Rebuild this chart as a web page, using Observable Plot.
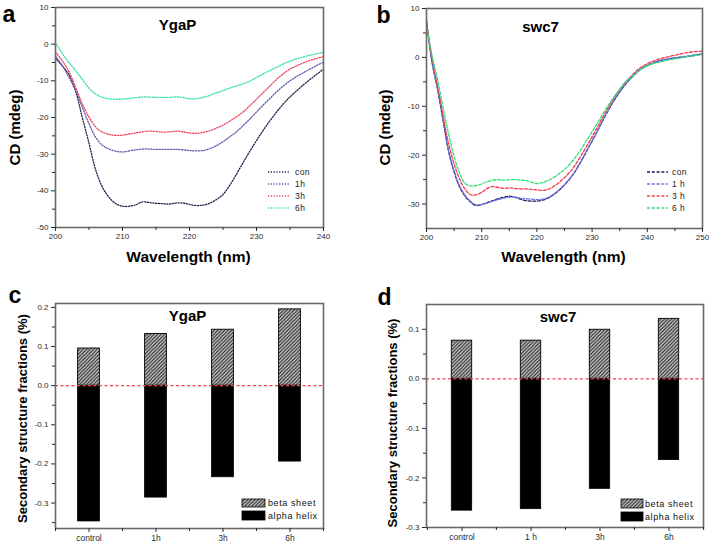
<!DOCTYPE html>
<html>
<head>
<meta charset="utf-8">
<script src="https://cdn.jsdelivr.net/npm/d3@7"></script>
<script src="https://cdn.jsdelivr.net/npm/@observablehq/plot@0.6"></script>
<style>
  body { margin: 0; background: #fff; }
  #root { position: relative; width: 709px; height: 544px; overflow: hidden; background: #fff; }
  .panel { position: absolute; }
</style>
</head>
<body>
<div id="root"></div>
<script>
// ---------------- DATA ----------------
// Panel a: YgaP CD spectra
const wavelengthA = [200,201,202,203,204,205,206,207,208,209,210,211,212,213,214,215,216,217,218,219,220,221,222,223,224,225,226,227,228,229,230,231,232,233,234,235,236,237,238,239,240];
const ygapCon = [-3.8,-5.9,-8.3,-12.8,-20,-27,-34.3,-39,-41.8,-43.5,-44.2,-44.2,-43.8,-43,-43.2,-43.4,-43.5,-43.6,-43.3,-43.3,-43.7,-44,-43.9,-43.4,-42.4,-41,-38.5,-35.5,-32.3,-29.2,-26.3,-23.5,-20.9,-18.5,-16.3,-14.4,-12.7,-11.1,-9.6,-8.2,-6.8];
const ygap1h  = [-3.3,-5.8,-9,-12.6,-17.2,-21.7,-25.4,-27.6,-28.6,-29.2,-29.4,-29.1,-28.8,-28.6,-28.6,-28.7,-28.7,-28.7,-28.7,-28.8,-29,-29.1,-29,-28.5,-27.7,-26.6,-25.3,-23.9,-22.2,-20.4,-18.5,-16.6,-14.8,-13,-11.4,-10,-8.8,-7.8,-6.8,-5.8,-4.9];
const ygap3h  = [-2.2,-4.5,-7.5,-11.7,-16.3,-19.9,-22.6,-24,-24.6,-24.9,-24.8,-24.5,-24.2,-23.9,-23.7,-23.8,-24,-23.9,-23.7,-23.9,-24.2,-24.3,-24.1,-23.6,-22.9,-22.1,-21,-19.8,-18.5,-16.8,-15,-13.2,-11.4,-9.6,-8.1,-6.8,-5.9,-5.1,-4.4,-3.9,-3.4];
const ygap6h  = [0.4,-2.5,-5,-7.2,-9.6,-12,-13.6,-14.5,-14.9,-15,-15,-14.8,-14.6,-14.4,-14.4,-14.5,-14.5,-14.5,-14.4,-14.5,-14.9,-14.9,-14.5,-14,-13.3,-12.7,-12,-11.4,-10.8,-10.1,-9.1,-8.1,-7.2,-6.3,-5.4,-4.6,-4,-3.5,-3,-2.6,-2.2];

// Panel b: swc7 CD spectra
const wavelengthB = [200,201,202,203,204,205,206,207,208,209,210,211,212,213,214,215,216,217,218,219,220,221,222,223,224,225,226,227,228,229,230,231,232,233,234,235,236,237,238,239,240,241,242,244,246,248,250];
const swc7Con = [7.6,-1,-6.5,-12.9,-19.2,-23.4,-26.5,-28.4,-29.6,-30.3,-30.1,-29.7,-29.3,-28.9,-28.6,-28.4,-28.6,-29,-29.3,-29.4,-29.4,-29.2,-28.8,-28.1,-27.2,-26.1,-24.8,-23.2,-21.3,-19.2,-17.1,-15,-12.8,-10.7,-8.8,-7.1,-5.6,-4.3,-3.2,-2.3,-1.7,-1.2,-0.8,-0.3,0,0.3,0.7];
const swc71h  = [7.2,-0.8,-6.3,-12.7,-19,-23.2,-26.3,-28.2,-29.5,-30.2,-30.1,-29.8,-29.4,-29.1,-28.8,-28.6,-28.6,-28.8,-28.9,-29,-29.1,-29,-28.7,-28,-27.1,-26,-24.7,-23.1,-21.2,-19.1,-17,-14.9,-12.7,-10.6,-8.7,-7,-5.5,-4.2,-3.1,-2.2,-1.6,-1.1,-0.7,-0.2,0.1,0.4,0.8];
const swc73h  = [7,0,-5.8,-11.8,-17.6,-21.8,-24.9,-27,-28.1,-28.1,-27.6,-26.8,-26.4,-26.6,-26.8,-26.7,-26.8,-26.9,-26.9,-27,-27.1,-27.2,-27,-26.4,-25.6,-24.6,-23.4,-21.9,-20.1,-18.2,-16.2,-14.2,-12.1,-10.1,-8.2,-6.6,-5.1,-3.9,-2.8,-1.9,-1.3,-0.8,-0.4,0.2,0.7,1.1,1.3];
const swc76h  = [6.5,0.3,-4.5,-10.2,-15.6,-20.3,-23.7,-25.8,-26.3,-26.2,-25.9,-25.4,-25.1,-25,-25.1,-25,-25,-25.1,-25.2,-25.5,-25.8,-25.6,-25.2,-24.6,-23.8,-22.9,-21.8,-20.4,-18.8,-17,-15.2,-13.4,-11.5,-9.7,-8,-6.5,-5.1,-4,-3.1,-2.3,-1.7,-1.3,-1,-0.5,-0.1,0.3,0.6];

const seriesKeys = ["con", "1h", "3h", "6h"];
const legendLabelsA = ["con", "1h", "3h", "6h"];
const legendLabelsB = ["con", "1 h", "3 h", "6 h"];
const colorsA = ["#22224a", "#5c5cae", "#f5425e", "#2ee0a8"];
const colorsB = ["#1e1e5e", "#6f74e8", "#f53a4a", "#2fe070"];

// Panel c: YgaP secondary structure fractions
const groupsC = ["control", "1h", "3h", "6h"];
const betaC  = [0.095, 0.132, 0.143, 0.195];
const alphaC = [-0.347, -0.286, -0.234, -0.194];

// Panel d: swc7 secondary structure fractions
const groupsD = ["control", "1 h", "3h", "6h"];
const betaD  = [0.077, 0.077, 0.099, 0.121];
const alphaD = [-0.266, -0.263, -0.222, -0.164];

// Tick values
const xMajorA = [200, 210, 220, 230, 240];
const xMinorA = [205, 215, 225, 235];
const yMajorA = [-50, -40, -30, -20, -10, 0, 10];
const yMinorA = [-45, -35, -25, -15, -5, 5];
const xMajorB = [200, 210, 220, 230, 240, 250];
const xMinorB = [205, 215, 225, 235, 245];
const yMajorB = [-30, -20, -10, 0, 10];
const yMinorB = [-25, -15, -5, 5];
const yMajorC = [-0.3, -0.2, -0.1, 0, 0.1, 0.2];
const yMinorC = [-0.35, -0.25, -0.15, -0.05, 0.05, 0.15];
const yMajorD = [-0.3, -0.2, -0.1, 0, 0.1];
const yMinorD = [-0.25, -0.15, -0.05, 0.05];

// ---------------- HELPERS ----------------
const FONT = "'Liberation Sans', Arial, Helvetica, sans-serif";
const FRAME = "#6a6a6a";

function toRows(xs, arrays) {
  const rows = [];
  arrays.forEach((ys, k) => xs.forEach((x, i) => rows.push({wavelength: x, cd: ys[i], series: seriesKeys[k]})));
  return rows;
}
function barRows(groups, values) {
  return groups.map((g, i) => ({group: g, value: values[i]}));
}
const label = (t, o) => Plot.text([t], {text: d => d, fill: "#000", fontWeight: "bold", lineAnchor: "middle", textAnchor: "middle", ...o});
const numFmt = d => String(d);
const fracFmt = d => (Math.abs(d) < 1e-9 ? 0 : d).toFixed(1);
const blank = () => "";

function lineLegend(labels, colors, dash, offs, x0, x1, tx) {
  return (index, scales, values, dims) => {
    const g = d3.create("svg:g").attr("font-size", 8.5).attr("fill", "#222")
      .attr("letter-spacing", 0.4).attr("text-anchor", "start");
    const right = dims.width - dims.marginRight, top = dims.marginTop;
    labels.forEach((name, i) => {
      const y = top + offs[i];
      g.append("line").attr("x1", right + x0).attr("x2", right + x1).attr("y1", y).attr("y2", y)
        .attr("stroke", colors[i]).attr("stroke-width", 1.3).attr("stroke-dasharray", dash);
      g.append("text").attr("x", right + tx).attr("y", y).attr("dy", "0.35em").attr("text-anchor", "start").text(name);
    });
    return g.node();
  };
}
function barLegend(hatchId, offs, x0, x1, tx) {
  return (index, scales, values, dims) => {
    const g = d3.create("svg:g").attr("font-size", 9).attr("fill", "#111")
      .attr("letter-spacing", 0.6).attr("text-anchor", "start");
    const right = dims.width - dims.marginRight, top = dims.marginTop;
    const items = [["beta sheet", `url(#${hatchId})`], ["alpha helix", "#000"]];
    items.forEach(([name, fill], i) => {
      const [a, b] = offs[i];
      g.append("rect").attr("x", right + x0).attr("y", top + a).attr("width", x1 - x0).attr("height", b - a)
        .attr("fill", fill).attr("stroke", "#000").attr("stroke-width", 0.8);
      g.append("text").attr("x", right + tx).attr("y", top + (a + b) / 2).attr("dy", "0.35em").attr("text-anchor", "start").text(name);
    });
    return g.node();
  };
}
function addHatch(svg, id) {
  svg.insertAdjacentHTML("afterbegin",
    `<defs><pattern id="${id}" patternUnits="userSpaceOnUse" width="3.5" height="3.5">` +
    `<rect width="3.5" height="3.5" fill="#d9d9d9"/>` +
    `<path d="M-1,1 l2,-2 M0,3.5 l3.5,-3.5 M2.5,4.5 l2,-2" stroke="#2e2e2e" stroke-width="1.3"/></pattern></defs>`);
}
function place(el, left, top) {
  el.classList.add("panel");
  el.style.left = left + "px";
  el.style.top = top + "px";
  document.getElementById("root").appendChild(el);
}

const baseStyle = {fontFamily: FONT, background: "transparent", color: "#2a2a2a", overflow: "visible"};

// ---------------- PANEL A ----------------
const plotA = Plot.plot({
  width: 355, height: 272,
  marginLeft: 55, marginRight: 32, marginTop: 7, marginBottom: 45,
  style: baseStyle,
  x: {domain: [200, 240]},
  y: {domain: [-50, 10]},
  color: {domain: seriesKeys, range: colorsA},
  marks: [
    Plot.line(toRows(wavelengthA, [ygapCon, ygap1h, ygap3h, ygap6h]),
      {x: "wavelength", y: "cd", z: "series", stroke: "series", strokeWidth: 1.3, strokeDasharray: "1.2,1.6", curve: "catmull-rom"}),
    Plot.frame({stroke: FRAME, strokeWidth: 1.6}),
    Plot.axisX({ticks: xMajorA, tickSize: 4, tickPadding: 2, fontSize: 8, tickFormat: numFmt, label: null}),
    Plot.axisX({ticks: xMinorA, tickSize: 3, tickFormat: blank, label: null}),
    Plot.axisY({ticks: yMajorA, tickSize: 4, tickPadding: 3, fontSize: 8, tickFormat: numFmt, label: null}),
    Plot.axisY({ticks: yMinorA, tickSize: 3, tickFormat: blank, label: null}),
    label("YgaP", {frameAnchor: "top", dx: -12, dy: 18, fontSize: 15}),
    label("CD (mdeg)", {frameAnchor: "left", rotate: -90, dx: -40, dy: 10, fontSize: 15}),
    label("Wavelength (nm)", {frameAnchor: "bottom", dx: -1, dy: 30, fontSize: 15.5, letterSpacing: 0.3}),
    label("a", {frameAnchor: "top-left", textAnchor: "start", dx: -53, dy: 7, fontSize: 23}),
    lineLegend(legendLabelsA, colorsA, "1.2,1.6", [165, 177, 189, 201], -55, -33, -28)
  ]
});
place(plotA, 0, 0);

// ---------------- PANEL B ----------------
const plotB = Plot.plot({
  width: 354, height: 272,
  marginLeft: 71, marginRight: 7, marginTop: 8, marginBottom: 44,
  style: baseStyle,
  x: {domain: [200, 250]},
  y: {domain: [-35, 10]},
  color: {domain: seriesKeys, range: colorsB},
  marks: [
    Plot.line(toRows(wavelengthB, [swc7Con, swc71h, swc73h, swc76h]),
      {x: "wavelength", y: "cd", z: "series", stroke: "series", strokeWidth: 1.3, strokeDasharray: "3,1.8", curve: "catmull-rom"}),
    Plot.frame({stroke: FRAME, strokeWidth: 1.6}),
    Plot.axisX({ticks: xMajorB, tickSize: 4, tickPadding: 2, fontSize: 8, tickFormat: numFmt, label: null}),
    Plot.axisX({ticks: xMinorB, tickSize: 3, tickFormat: blank, label: null}),
    Plot.axisY({ticks: yMajorB, tickSize: 4, tickPadding: 3, fontSize: 8, tickFormat: numFmt, label: null}),
    Plot.axisY({ticks: yMinorB, tickSize: 3, tickFormat: blank, label: null}),
    label("swc7", {frameAnchor: "top", dx: -24, dy: 19, fontSize: 15}),
    label("CD (mdeg)", {frameAnchor: "left", rotate: -90, dx: -41, dy: 9, fontSize: 15}),
    label("Wavelength (nm)", {frameAnchor: "bottom", dx: -1, dy: 29, fontSize: 15.5, letterSpacing: 0.3}),
    label("b", {frameAnchor: "top-left", textAnchor: "start", dx: -50, dy: 7, fontSize: 23}),
    lineLegend(legendLabelsB, colorsB, "3,1.8", [164, 176, 188, 200], -55, -34, -30)
  ]
});
place(plotB, 355, 0);

// ---------------- PANEL C ----------------
const plotC = Plot.plot({
  width: 355, height: 269,
  marginLeft: 55, marginRight: 32, marginTop: 28, marginBottom: 16,
  style: baseStyle,
  x: {type: "band", domain: groupsC, padding: 0},
  y: {domain: [-0.365, 0.21]},
  marks: [
    Plot.barY(barRows(groupsC, alphaC), {x: "group", y1: 0, y2: "value", fill: "#000", stroke: "#000", strokeWidth: 0.8, insetLeft: 22.6, insetRight: 22.6}),
    Plot.barY(barRows(groupsC, betaC), {x: "group", y1: 0, y2: "value", fill: "url(#hatchC)", stroke: "#000", strokeWidth: 0.9, insetLeft: 22.6, insetRight: 22.6}),
    Plot.ruleY([0], {stroke: "#f2405a", strokeDasharray: "3,2.5", strokeWidth: 1.3}),
    Plot.frame({stroke: FRAME, strokeWidth: 1.6}),
    Plot.axisY({ticks: yMajorC, tickSize: 4, tickPadding: 3, fontSize: 8, tickFormat: fracFmt, label: null}),
    Plot.axisY({ticks: yMinorC, tickSize: 3, tickFormat: blank, label: null}),
    Plot.axisX({tickSize: 4, tickPadding: 2, fontSize: 8.5, label: null}),
    Plot.axisX(groupsC, {tickSize: 3, dx: -33.5, tickFormat: blank, label: null}),
    Plot.axisX([groupsC[groupsC.length - 1]], {tickSize: 3, dx: 33.5, tickFormat: blank, label: null}),
    label("YgaP", {frameAnchor: "top", dx: -2, dy: 13, fontSize: 15}),
    label("Secondary structure fractions (%)", {frameAnchor: "left", rotate: -90, dx: -33, dy: 2.5, fontSize: 13}),
    label("c", {frameAnchor: "top-left", textAnchor: "start", dx: -47, dy: -8, fontSize: 23}),
    barLegend("hatchC", [[196, 204], [208, 217]], -81, -58, -55)
  ]
});
addHatch(plotC, "hatchC");
place(plotC, 0, 275);

// ---------------- PANEL D ----------------
const plotD = Plot.plot({
  width: 354, height: 269,
  marginLeft: 71, marginRight: 6, marginTop: 29, marginBottom: 17,
  style: baseStyle,
  x: {type: "band", domain: groupsD, padding: 0},
  y: {domain: [-0.3, 0.15]},
  marks: [
    Plot.barY(barRows(groupsD, alphaD), {x: "group", y1: 0, y2: "value", fill: "#000", stroke: "#000", strokeWidth: 0.8, insetLeft: 24.3, insetRight: 24.3}),
    Plot.barY(barRows(groupsD, betaD), {x: "group", y1: 0, y2: "value", fill: "url(#hatchD)", stroke: "#000", strokeWidth: 0.9, insetLeft: 24.3, insetRight: 24.3}),
    Plot.ruleY([0], {stroke: "#f2405a", strokeDasharray: "3,2.5", strokeWidth: 1.3}),
    Plot.frame({stroke: FRAME, strokeWidth: 1.6}),
    Plot.axisY({ticks: yMajorD, tickSize: 4, tickPadding: 3, fontSize: 8, tickFormat: fracFmt, label: null}),
    Plot.axisY({ticks: yMinorD, tickSize: 3, tickFormat: blank, label: null}),
    Plot.axisX({tickSize: 4, tickPadding: 2, fontSize: 8.5, label: null}),
    Plot.axisX(groupsD, {tickSize: 3, dx: -34.6, tickFormat: blank, label: null}),
    Plot.axisX([groupsD[groupsD.length - 1]], {tickSize: 3, dx: 34.6, tickFormat: blank, label: null}),
    label("swc7", {frameAnchor: "top", dx: -7, dy: 13, fontSize: 15}),
    label("Secondary structure fractions (%)", {frameAnchor: "left", rotate: -90, dx: -34, dy: 7, fontSize: 13}),
    label("d", {frameAnchor: "top-left", textAnchor: "start", dx: -49, dy: -7, fontSize: 23}),
    barLegend("hatchD", [[195, 204], [208, 217]], -82, -60, -58)
  ]
});
addHatch(plotD, "hatchD");
place(plotD, 355, 275);
</script>
</body>
</html>
